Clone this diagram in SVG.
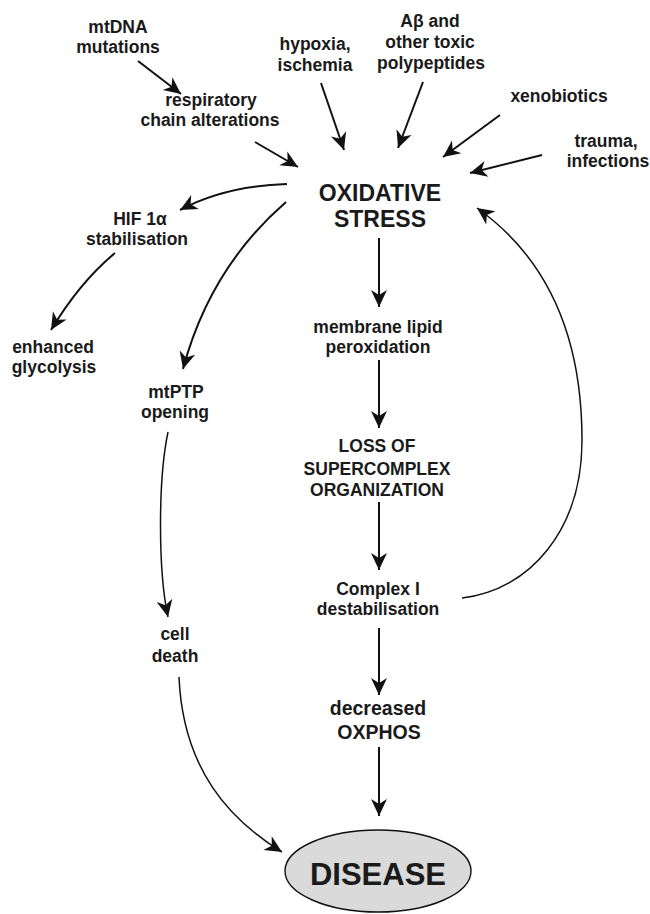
<svg xmlns="http://www.w3.org/2000/svg" width="650" height="914" viewBox="0 0 650 914">
<style>
text{font-family:"Liberation Sans",Arial,Helvetica,sans-serif;font-weight:bold;fill:#1a1a1a;text-anchor:middle}
.s{font-size:17.5px}
.m{font-size:19.5px}
.l{font-size:23px}
.xl{font-size:31px}
.c{fill:none;stroke:#111;stroke-width:2}
.t{fill:none;stroke:#111;stroke-width:1.5}
</style>
<defs>
<marker id="ah" viewBox="-18 -9 19 18" refX="0" refY="0" markerWidth="19" markerHeight="18" markerUnits="userSpaceOnUse" orient="auto">
<path d="M0,0 L-17,-8 L-12,0 L-17,8 Z" fill="#111"/>
</marker>
</defs>
<rect width="650" height="914" fill="#fff"/>
<g id="connectors">
<path class="c" d="M138,61 L181,94" marker-end="url(#ah)"/>
<path class="c" d="M255,142 L298,167" marker-end="url(#ah)"/>
<path class="c" d="M321,83 L344,150" marker-end="url(#ah)"/>
<path class="c" d="M423,82 L398,148" marker-end="url(#ah)"/>
<path class="c" d="M500,115 L443,157" marker-end="url(#ah)"/>
<path class="c" d="M542,155 L470,173" marker-end="url(#ah)"/>
<path class="c" d="M287,184 Q225,186 180,210" marker-end="url(#ah)"/>
<path class="c" d="M115,253 Q80,282 51,330" marker-end="url(#ah)"/>
<path class="c" d="M286,202 Q210,268 183,369" marker-end="url(#ah)"/>
<path class="t" d="M168,432 C158,480 158,570 168,617" marker-end="url(#ah)"/>
<path class="t" d="M179,677 C183,770 230,820 282,852" marker-end="url(#ah)"/>
<path class="c" d="M379,238 L379,307" marker-end="url(#ah)"/>
<path class="c" d="M379,360 L379,428" marker-end="url(#ah)"/>
<path class="c" d="M379,502 L379,570" marker-end="url(#ah)"/>
<path class="c" d="M379,628 L379,695" marker-end="url(#ah)"/>
<path class="c" d="M379,747 L379,816" marker-end="url(#ah)"/>
<path class="t" d="M462,598 C530,590 582,530 582,440 C582,340 550,260 477,208" marker-end="url(#ah)"/>
</g>
<g id="mtdna"><text class="s" x="118" y="33">mtDNA</text><text class="s" x="118" y="53">mutations</text></g>
<g id="respiratory"><text class="s" x="211" y="106">respiratory</text><text class="s" x="210" y="126">chain alterations</text></g>
<g id="hypoxia"><text class="s" x="315" y="50">hypoxia,</text><text class="s" x="315" y="71">ischemia</text></g>
<g id="abeta"><text class="s" x="430" y="27">Aβ  and</text><text class="s" x="430" y="48">other toxic</text><text class="s" x="431" y="69">polypeptides</text></g>
<g id="xenobiotics"><text class="s" x="559" y="102">xenobiotics</text></g>
<g id="trauma"><text class="s" x="606" y="147">trauma,</text><text class="s" x="608" y="167">infections</text></g>
<g id="oxidative-stress"><text class="l" x="380" y="201">OXIDATIVE</text><text class="l" x="380" y="227">STRESS</text></g>
<g id="hif"><text class="s" x="140" y="225">HIF 1α</text><text class="s" x="137" y="245">stabilisation</text></g>
<g id="glycolysis"><text class="s" x="53" y="353">enhanced</text><text class="s" x="54" y="373">glycolysis</text></g>
<g id="mtptp"><text class="s" x="176" y="398">mtPTP</text><text class="s" x="175" y="418">opening</text></g>
<g id="lipid"><text class="s" x="378" y="333">membrane lipid</text><text class="s" x="378" y="353">peroxidation</text></g>
<g id="supercomplex"><text class="s" x="377" y="452">LOSS  OF</text><text class="s" x="377" y="475">SUPERCOMPLEX</text><text class="s" x="377" y="496">ORGANIZATION</text></g>
<g id="complex1"><text class="s" x="378" y="595">Complex I</text><text class="s" x="378" y="615">destabilisation</text></g>
<g id="celldeath"><text class="s" x="175" y="640">cell</text><text class="s" x="175" y="662">death</text></g>
<g id="oxphos"><text class="m" x="378" y="715">decreased</text><text class="m" x="379" y="739">OXPHOS</text></g>
<g id="disease"><ellipse cx="378" cy="871" rx="93" ry="41" fill="#dadada" stroke="#111" stroke-width="1.4"/><text class="xl" x="378" y="885">DISEASE</text></g>
</svg>
